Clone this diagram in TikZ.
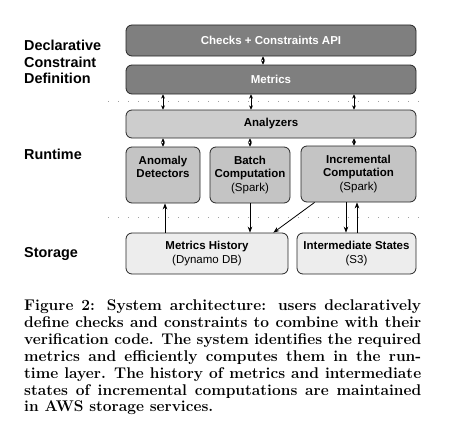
\documentclass[tikz,border=0pt]{standalone}
\usepackage{fontspec}
\newfontfamily\diagsans{Liberation Sans}
\usetikzlibrary{arrows.meta}
\definecolor{darkbox}{HTML}{7F7F7F}
\definecolor{anabox}{HTML}{CDCDCD}
\definecolor{midbox}{HTML}{C4C4C4}
\definecolor{lightbox}{HTML}{EDEDED}
\definecolor{dotgray}{HTML}{A0A0A0}
\begin{document}
\begin{tikzpicture}[x=1pt,y=-1pt,
  box/.style={draw=black!85, line width=0.8pt, rounded corners=6pt, inner sep=0pt, align=center,
    font=\diagsans\bfseries\fontsize{11.5}{13.5}\selectfont},
  darkb/.style={box, fill=darkbox, text=white},
  anab/.style={box, fill=anabox},
  midb/.style={box, fill=midbox},
  lightb/.style={box, fill=lightbox},
  layer/.style={anchor=north west, inner sep=0pt, align=left,
    font=\diagsans\bfseries\fontsize{14.4}{16.5}\selectfont},
  dbl/.style={line width=0.8pt, {Stealth[length=4.2pt,width=4pt]}-{Stealth[length=4.2pt,width=4pt]}},
  arr/.style={line width=0.8pt, -{Stealth[length=6pt,width=4.6pt]}},
  sep/.style={dotgray, line width=0.8pt, dash pattern=on 0.8pt off 9.2pt},
  sub/.style={font=\mdseries}
]
\useasboundingbox (0,0) rectangle (449,436);

% layer labels
\node[layer] (ldecl) at (24,40) {Declarative\\Constraint\\Definition};
\node[layer] (lrun) at (24,149) {Runtime};
\node[layer] (lsto) at (24,247) {Storage};

% separators
\coordinate (s1a) at (108,101); \coordinate (s1b) at (424,101);
\coordinate (s2a) at (108,217); \coordinate (s2b) at (424,217);
\draw[sep] (s1a) -- (s1b);
\draw[sep] (s2a) -- (s2b);

% boxes
\node[darkb, minimum width=290pt, minimum height=31pt] (api) at (271,40.5) {Checks + Constraints API};
\node[darkb, minimum width=290pt, minimum height=29pt] (metrics) at (271,79.5) {Metrics};
\node[anab, minimum width=290pt, minimum height=28pt] (ana) at (271,124) {Analyzers};
\node[midb, minimum width=74pt, minimum height=56pt] (anom) at (163,175) {Anomaly\\Detectors\\\phantom{(Spark)}};
\node[midb, minimum width=80pt, minimum height=56pt] (batch) at (250,175) {Batch\\Computation\\{\mdseries (Spark)}};
\node[midb, minimum width=115pt, minimum height=56pt] (incr) at (358.5,174) {Incremental\\Computation\\{\mdseries (Spark)}};
\node[lightb, minimum width=162pt, minimum height=41pt] (mhist) at (207,253.5) {Metrics History\\{\mdseries (Dynamo DB)}};
\node[lightb, minimum width=119pt, minimum height=41pt] (inter) at (356.5,253.5) {Intermediate States\\{\mdseries (S3)}};

% double arrows
\draw[dbl] ([xshift=-8pt]api.south) -- ([xshift=-8pt]metrics.north);
\draw[dbl] ([xshift=-108pt]metrics.south) -- ([xshift=-108pt]ana.north);
\draw[dbl] ([xshift=-20pt]metrics.south) -- ([xshift=-20pt]ana.north);
\draw[dbl] ([xshift=83pt]metrics.south) -- ([xshift=83pt]ana.north);
\draw[dbl] (ana.south -| anom.north) -- (anom.north);
\draw[dbl] (ana.south -| batch.north) -- (batch.north);
\draw[dbl] ([xshift=-4.5pt]incr.north |- ana.south) -- ([xshift=-4.5pt]incr.north);

% storage arrows
\draw[arr] ([xshift=2pt]anom.south |- mhist.north) -- ([xshift=2pt]anom.south);
\draw[arr] (batch.south) -- (batch.south |- mhist.north);
\draw[arr] ([xshift=14pt]incr.south west) -- ([xshift=-15pt]mhist.north east);
\draw[arr] ([xshift=-12.5pt]incr.south) -- ([xshift=-12.5pt]incr.south |- inter.north);
\draw[arr] ([xshift=-1.5pt]incr.south |- inter.north) -- ([xshift=-1.5pt]incr.south);

% caption
\node[anchor=north west, inner sep=0pt, text width=397pt, align=justify,
  font=\bfseries\fontsize{15.5}{16.9}\selectfont] (cap) at (24,299.5)
 {\noindent Figure 2: System architecture: users declaratively\linebreak
 define checks and constraints to combine with their\linebreak
 verification code. The system identifies the required\linebreak
 metrics and efficiently computes them in the run-\linebreak
 time layer. The history of metrics and intermediate\linebreak
 states of incremental computations are maintained\linebreak
 in AWS storage services.};
\end{tikzpicture}
\end{document}
